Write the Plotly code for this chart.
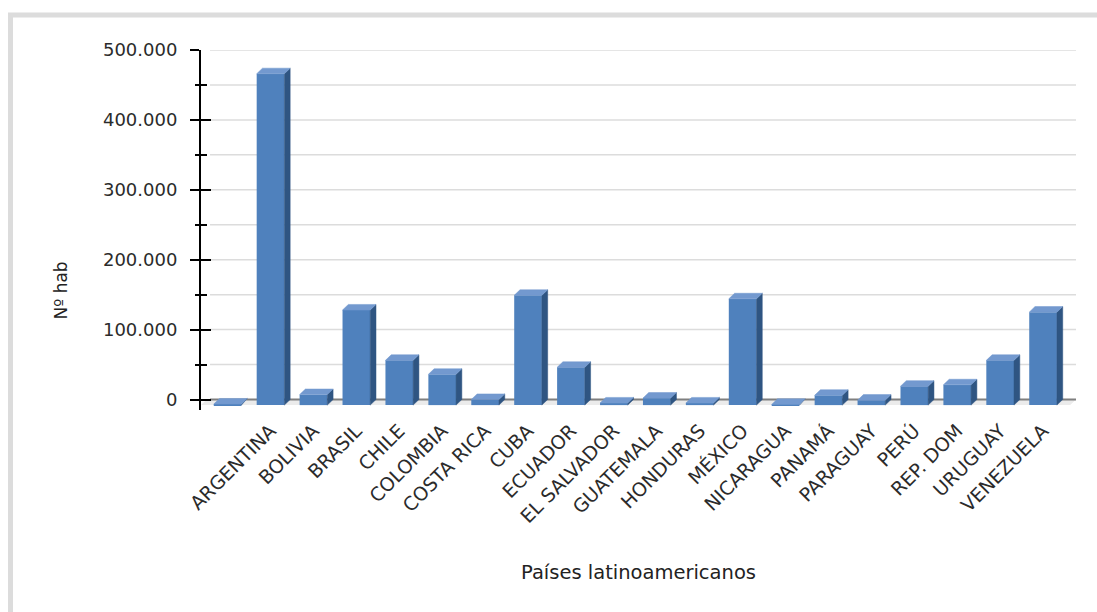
import plotly.graph_objects as go

# Data: residents per Latin American country
categories = [" ", "ARGENTINA", "BOLIVIA", "BRASIL", "CHILE", "COLOMBIA", "COSTA RICA",
              "CUBA", "ECUADOR", "EL SALVADOR", "GUATEMALA", "HONDURAS", "MÉXICO",
              "NICARAGUA", "PANAMÁ", "PARAGUAY", "PERÚ", "REP. DOM", "URUGUAY", "VENEZUELA"]
values = [1500, 474000, 15000, 136000, 64000, 44000, 8000, 157000, 54000, 3000,
          10000, 3000, 152000, 1000, 14000, 7000, 27000, 29000, 64000, 133000]

major_ticks = [0, 100000, 200000, 300000, 400000, 500000]
major_labels = ["0", "100.000", "200.000", "300.000", "400.000", "500.000"]
minor_ticks = [50000, 150000, 250000, 350000, 450000]

# 3D look: depth of each bar in axis units
BAR_W = 0.645
DX = 0.135      # horizontal depth (category units)
DY = 8000       # vertical depth (value units)

X_LO, X_HI = -0.62, 19.767
Y_LO, Y_HI = -15000, 500000

FRONT = "#4f81bd"
TOP = "#7399cf"
SIDE = "#2f5582"
FONT = "DejaVu Sans"

idx = list(range(len(categories)))

# top and side faces as filled polygons built from the values
top_x, top_y, side_x, side_y = [], [], [], []
for i, v in zip(idx, values):
    l, r = i - BAR_W / 2, i + BAR_W / 2
    top_x += [l, r, r + DX, l + DX, l, None]
    top_y += [v - DY, v - DY, v, v, v - DY, None]
    side_x += [r, r + DX, r + DX, r, r, None]
    side_y += [-DY, 0, v, v - DY, -DY, None]

fig = go.Figure()

# front faces
fig.add_trace(go.Bar(
    x=idx, y=values, base=[-DY] * len(values), width=BAR_W,
    marker=dict(color=FRONT, line=dict(width=0)),
    hovertemplate="%{customdata}: %{y:,}<extra></extra>", customdata=categories,
))
# side faces
fig.add_trace(go.Scatter(
    x=side_x, y=side_y, mode="lines", fill="toself", fillcolor=SIDE,
    line=dict(color=SIDE, width=0.5), hoverinfo="skip",
))
# top faces (overlay axis with the same scale)
fig.add_trace(go.Scatter(
    x=top_x, y=top_y, mode="lines", fill="toself", fillcolor=TOP,
    line=dict(color=TOP, width=0.5), hoverinfo="skip", yaxis="y2",
))

shapes = []
# floor of the 3D plot
shapes.append(dict(
    type="path", xref="x", yref="y", layer="below",
    path=f"M {X_LO},{-DY} L {X_HI - DX},{-DY} L {X_HI},0 L {X_LO + DX},0 Z",
    fillcolor="#ebebeb", line=dict(width=0),
))
# back-wall grid lines
grid_start = X_LO + 0.21
for t in sorted(major_ticks + minor_ticks):
    shapes.append(dict(
        type="line", xref="x", yref="y", layer="below",
        x0=grid_start, x1=X_HI, y0=t, y1=t,
        line=dict(color="#7f7f7f" if t == 0 else "#dcdcdc", width=2 if t == 0 else 1.5),
    ))
# outer frame
shapes.append(dict(
    type="rect", xref="paper", yref="paper", layer="below",
    x0=(10.5 - 201) / 875, x1=1.1, y0=-0.7, y1=(409.5 - 14.5) / 360,
    line=dict(color="#dcdcdc", width=5), fillcolor="rgba(0,0,0,0)",
))
fig.update_layout(shapes=shapes)

fig.update_layout(
    width=1097, height=612,
    margin=dict(l=201, r=21, t=50, b=202),
    paper_bgcolor="white", plot_bgcolor="white",
    showlegend=False,
    font=dict(family=FONT, color="#333333"),
    xaxis=dict(
        range=[X_LO, X_HI], tickmode="array", tickvals=idx, ticktext=categories,
        tickangle=-45, tickfont=dict(size=19, color="#2b2b2b", family=FONT),
        showgrid=False, zeroline=False, showline=False, ticks="",
        ticklabelstandoff=5,
    ),
    yaxis=dict(
        range=[Y_LO, Y_HI], tickmode="array", tickvals=major_ticks, ticktext=major_labels,
        ticks="outside", ticklen=9, tickwidth=2, tickcolor="black",
        minor=dict(tickmode="array", tickvals=minor_ticks, ticks="outside",
                   ticklen=4, tickwidth=2, tickcolor="black"),
        showline=True, linecolor="black", linewidth=2,
        showgrid=False, zeroline=False,
        tickfont=dict(size=18, color="#2b2b2b", family=FONT),
        ticklabelstandoff=9,
    ),
    yaxis2=dict(
        range=[Y_LO, Y_HI], overlaying="y", side="left", anchor="x",
        tickmode="array", tickvals=major_ticks, ticks="inside", ticklen=10,
        tickwidth=2, tickcolor="black", showticklabels=False,
        minor=dict(tickmode="array", tickvals=minor_ticks, ticks="inside",
                   ticklen=6, tickwidth=2, tickcolor="black"),
        showline=False, showgrid=False, zeroline=False,
    ),
    annotations=[
        dict(text="Nº hab", xref="paper", yref="paper", x=(60 - 201) / 875,
             y=(409.5 - 290) / 360, textangle=-90, showarrow=False,
             font=dict(size=17, color="#222222", family=FONT),
             xanchor="center", yanchor="middle"),
        dict(text="Países latinoamericanos", xref="paper", yref="paper",
             x=(638 - 201) / 875, y=(409.5 - 572) / 360, showarrow=False,
             font=dict(size=19.5, color="#222222", family=FONT),
             xanchor="center", yanchor="middle"),
    ],
)

fig.write_html("out.html")
